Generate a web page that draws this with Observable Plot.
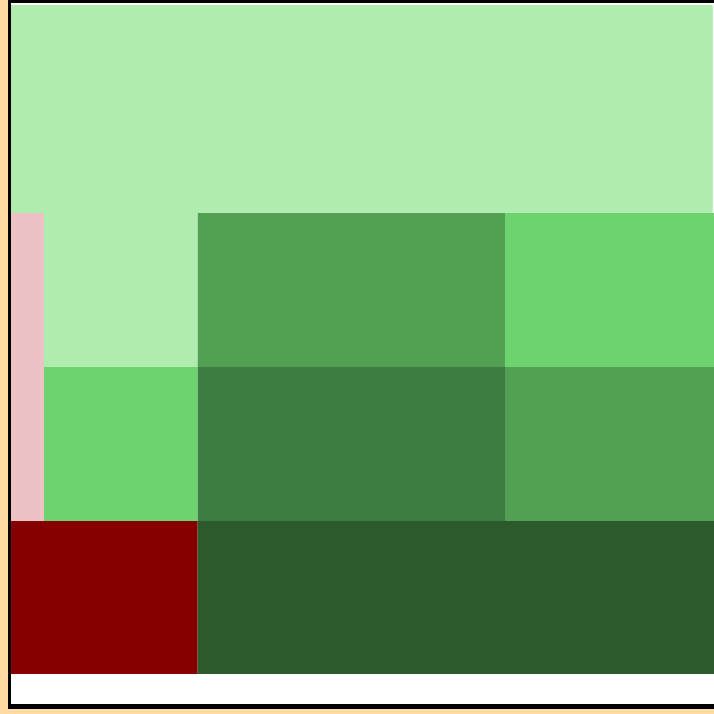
<!DOCTYPE html>
<html>
<head>
<meta charset="utf-8">
<script src="https://cdn.jsdelivr.net/npm/d3@7"></script>
<script src="https://cdn.jsdelivr.net/npm/@observablehq/plot@0.6"></script>
<style>
  html, body { margin: 0; padding: 0; overflow: hidden; background: #FFDAA2; width: 714px; height: 714px; }
  #frame {
    position: absolute; left: 8px; top: 0px;
    border-left: 3px solid #000; border-top: 3px solid #000; border-bottom: 5px solid #000;
    background: #fff; width: 730px; height: 701px; overflow: hidden;
  }
  #frame svg { display: block; }
</style>
</head>
<body>
<div id="frame"></div>
<script>
// Cell extents (data units) and category level per cell
const cellX1 = [-0.2147, -0.2147, 0, 1, 3, 0, 1, 3, -0.2147, 1];
const cellX2 = [4.352, 0, 1, 3, 4.6, 1, 3, 4.6, 1, 4.6];
const cellY1 = [3, 1, 2, 2, 2, 1, 1, 1, 0.0065, 0.0065];
const cellY2 = [4.351, 3, 3, 3, 3, 2, 2, 2, 1, 1];
const cellLevel = ["L1", "P", "L1", "L3", "L2", "L2", "L4", "L3", "R", "L5"];
const levels = ["P", "R", "L1", "L2", "L3", "L4", "L5"];
const levelColors = ["#EBC3C4", "#870000", "#B0EBB0", "#6ED36E", "#52A152", "#3E7D42", "#2C5A2D"];

const cells = cellX1.map((x1, i) => ({x1, x2: cellX2[i], y1: cellY1[i], y2: cellY2[i], level: cellLevel[i]}));

const ux = 153.67, uy = 154;
const chart = Plot.plot({
  width: 730,
  height: 701,
  marginTop: 0, marginBottom: 0, marginLeft: 0, marginRight: 0,
  x: {domain: [-33 / ux, 697 / ux], axis: null},
  y: {domain: [-29 / uy, 672 / uy], axis: null},
  color: {type: "ordinal", domain: levels, range: levelColors},
  style: {background: "#fff"},
  marks: [
    Plot.rect(cells, {x1: "x1", x2: "x2", y1: "y1", y2: "y2", fill: "level"})
  ]
});
document.getElementById("frame").appendChild(chart);
</script>
</body>
</html>
